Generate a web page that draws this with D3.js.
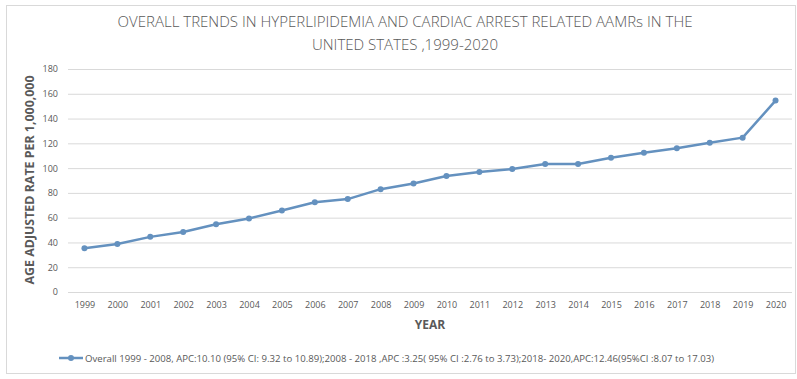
<!DOCTYPE html>
<html><head><meta charset="utf-8">
<script src="https://cdn.jsdelivr.net/npm/d3@7"></script>
<style>body{margin:0;background:#fff}svg{display:block}</style>
</head><body>
<svg id="c" width="797" height="379"></svg>
<script>
const years = ["1999","2000","2001","2002","2003","2004","2005","2006","2007","2008","2009","2010","2011","2012","2013","2014","2015","2016","2017","2018","2019","2020"];
const aamr = [35.3,38.8,44.5,48.5,54.7,59.3,65.8,72.5,75.0,83.0,87.6,93.6,96.8,99.2,103.3,103.3,108.4,112.4,116.0,120.5,124.6,154.5];
const yTicks = [0,20,40,60,80,100,120,140,160,180];
const titleLines = ["OVERALL TRENDS IN HYPERLIPIDEMIA AND CARDIAC ARREST RELATED AAMRs IN THE","UNITED STATES ,1999-2020"];
const legendLabel = "Overall 1999 - 2008, APC:10.10 (95% CI: 9.32 to 10.89);2008 - 2018 ,APC :3.25( 95% CI :2.76 to 3.73);2018- 2020,APC:12.46(95%CI :8.07 to 17.03)";

const svg = d3.select("#c");
const font = "'Open Sans', 'Liberation Sans', sans-serif";
const grey = "#595959";
const blue = "#6491bf";

svg.append("rect").attr("x",6.5).attr("y",5.5).attr("width",789).attr("height",368)
  .attr("fill","#fff").attr("stroke","#d9d9d9");

const x = d3.scalePoint().domain(years).range([68,792]).padding(0.5);
const y = d3.scaleLinear().domain([0,180]).range([292,69]);

// grid
svg.append("g").selectAll("line").data(yTicks).join("line")
  .attr("x1",68).attr("x2",792).attr("y1",d=>y(d)+0.5).attr("y2",d=>y(d)+0.5)
  .attr("stroke","#d9d9d9").attr("stroke-width",1);

// y axis labels
const ya = svg.append("g").attr("transform","translate(68,0)")
  .call(d3.axisLeft(y).tickValues(yTicks).tickSize(0).tickPadding(10));
ya.select(".domain").remove();
ya.selectAll("text").attr("font-family",font).attr("font-size",9).attr("fill",grey);

// x axis labels
const xa = svg.append("g").attr("transform","translate(0,292)")
  .call(d3.axisBottom(x).tickSize(0).tickPadding(10));
xa.select(".domain").remove();
xa.selectAll("text").attr("font-family",font).attr("font-size",9).attr("fill",grey);

// line
svg.append("path").datum(aamr)
  .attr("d", d3.line().x((d,i)=>x(years[i])).y(d=>y(d)))
  .attr("fill","none").attr("stroke",blue).attr("stroke-width",2.5).attr("stroke-linejoin","round");
svg.append("g").selectAll("circle").data(aamr).join("circle")
  .attr("cx",(d,i)=>x(years[i])).attr("cy",d=>y(d)).attr("r",3).attr("fill",blue);

// title
svg.append("g").selectAll("text").data(titleLines).join("text")
  .attr("x",405).attr("y",(d,i)=>27+i*23).attr("text-anchor","middle")
  .attr("font-family",font).attr("font-weight",300).attr("font-size",14).attr("fill",grey)
  .attr("textLength",(d,i)=>i===0?575:186).attr("lengthAdjust","spacingAndGlyphs")
  .text(d=>d);

// axis titles
svg.append("text").attr("transform","translate(34,180) rotate(-90)")
  .attr("text-anchor","middle").attr("font-family",font).attr("font-weight","bold")
  .attr("font-size",12).attr("fill",grey)
  .attr("textLength",209).attr("lengthAdjust","spacingAndGlyphs")
  .text("AGE ADJUSTED RATE PER 1,000,000");
svg.append("text").attr("x",430).attr("y",329).attr("text-anchor","middle")
  .attr("font-family",font).attr("font-weight","bold").attr("font-size",12).attr("fill",grey)
  .text("YEAR");

// legend
const lg = svg.append("g");
lg.append("line").attr("x1",59).attr("x2",83).attr("y1",358).attr("y2",358)
  .attr("stroke",blue).attr("stroke-width",2.5);
lg.append("circle").attr("cx",71).attr("cy",358).attr("r",3).attr("fill",blue);
lg.append("text").attr("x",85).attr("y",361.5).attr("font-family",font)
  .attr("font-size",9).attr("fill",grey)
  .attr("textLength",629).attr("lengthAdjust","spacingAndGlyphs")
  .text(legendLabel);
</script>
</body></html>
